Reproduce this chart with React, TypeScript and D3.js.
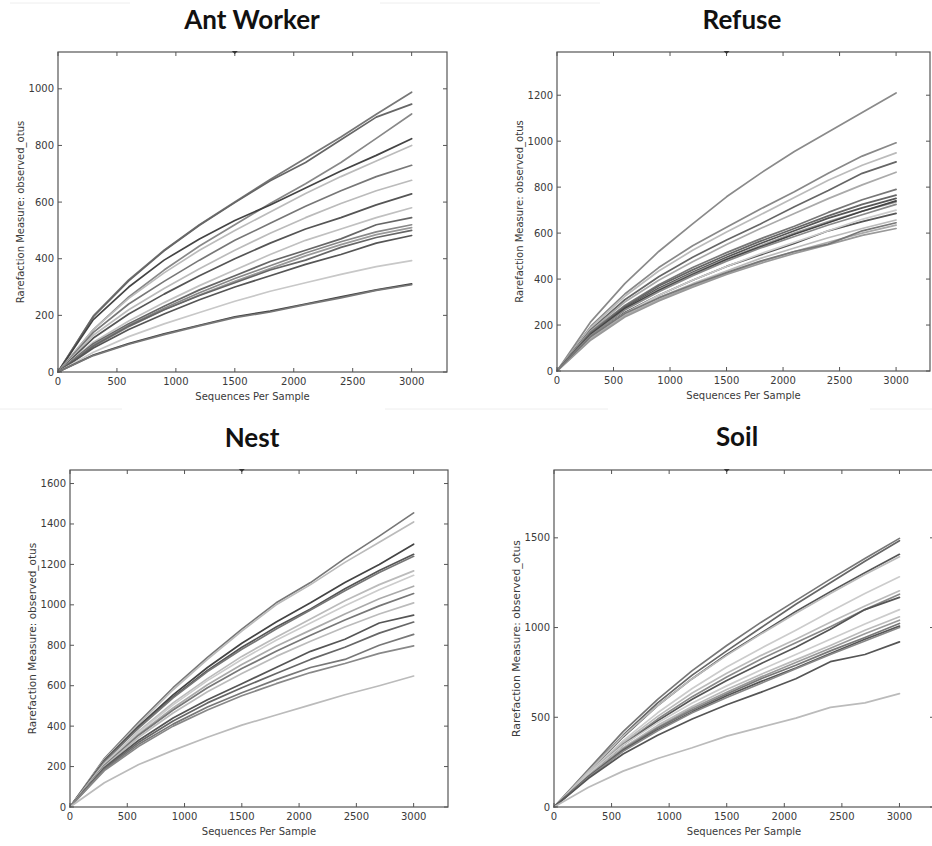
import React from "react";
import * as d3 from "d3";

// Rarefaction depths (sequences per sample)
const DEPTHS = [0, 300, 600, 900, 1200, 1500, 1800, 2100, 2400, 2700, 3000];

const PANEL_TITLES = ["Ant Worker", "Refuse", "Nest", "Soil"];
const X_TICKS = [0, 500, 1000, 1500, 2000, 2500, 3000];
const Y_TICKS_ANT = [0, 200, 400, 600, 800, 1000];
const Y_TICKS_REFUSE = [0, 200, 400, 600, 800, 1000, 1200];
const Y_TICKS_NEST = [0, 200, 400, 600, 800, 1000, 1200, 1400, 1600];
const Y_TICKS_SOIL = [0, 500, 1000, 1500];

// observed_otus per sample, one row per sample
const ANT_WORKER = [
  [0, 198, 325, 430, 520, 600, 680, 755, 830, 910, 988],
  [0, 195, 322, 428, 518, 598, 675, 740, 820, 900, 946],
  [0, 150, 265, 360, 445, 520, 595, 665, 740, 825, 911],
  [0, 185, 300, 395, 470, 535, 590, 650, 710, 765, 824],
  [0, 150, 260, 350, 430, 500, 565, 630, 690, 745, 800],
  [0, 140, 240, 320, 395, 465, 525, 585, 640, 690, 730],
  [0, 130, 220, 295, 365, 430, 490, 545, 595, 640, 677],
  [0, 120, 205, 275, 340, 400, 455, 505, 545, 590, 629],
  [0, 105, 180, 245, 305, 360, 415, 465, 505, 545, 580],
  [0, 100, 170, 232, 290, 340, 390, 430, 470, 520, 545],
  [0, 95, 165, 225, 280, 330, 375, 420, 460, 495, 520],
  [0, 90, 160, 220, 272, 320, 365, 410, 450, 485, 510],
  [0, 92, 162, 220, 270, 315, 360, 395, 440, 475, 500],
  [0, 85, 150, 205, 255, 300, 340, 380, 415, 455, 482],
  [0, 70, 125, 170, 210, 250, 285, 315, 345, 372, 393],
  [0, 60, 100, 135, 165, 195, 215, 240, 265, 290, 311],
  [0, 58, 98, 132, 163, 192, 212, 238, 262, 288, 308],
];
const ANT_WORKER_SHADES = ["#777", "#666", "#888", "#444", "#bbb", "#777", "#bbb", "#555", "#c0c0c0", "#666", "#888", "#999", "#666", "#555", "#c8c8c8", "#444", "#777"];

const REFUSE = [
  [0, 215, 380, 520, 640, 758, 860, 955, 1040, 1125, 1210],
  [0, 195, 335, 450, 545, 625, 705, 780, 860, 935, 993],
  [0, 190, 325, 435, 525, 605, 680, 755, 830, 895, 949],
  [0, 180, 310, 410, 495, 570, 640, 715, 785, 860, 910],
  [0, 175, 300, 395, 475, 550, 620, 685, 750, 810, 865],
  [0, 170, 285, 375, 450, 515, 575, 630, 690, 745, 790],
  [0, 165, 280, 370, 440, 505, 565, 620, 675, 725, 765],
  [0, 160, 275, 360, 430, 495, 555, 610, 665, 710, 751],
  [0, 158, 270, 355, 425, 488, 545, 600, 650, 695, 736],
  [0, 160, 272, 350, 420, 485, 540, 595, 645, 695, 740],
  [0, 150, 255, 330, 395, 455, 505, 555, 610, 650, 686],
  [0, 145, 245, 320, 380, 435, 490, 535, 580, 620, 657],
  [0, 140, 240, 310, 370, 425, 475, 520, 560, 600, 635],
  [0, 135, 235, 305, 365, 420, 468, 512, 550, 590, 620],
  [0, 150, 250, 330, 395, 455, 510, 560, 610, 660, 700],
  [0, 155, 265, 345, 415, 478, 535, 585, 635, 680, 725],
  [0, 150, 250, 318, 375, 428, 478, 520, 552, 610, 645],
];
const REFUSE_SHADES = ["#8a8a8a", "#888", "#bbb", "#666", "#aaa", "#777", "#666", "#555", "#999", "#444", "#555", "#bbb", "#aaa", "#999", "#ccc", "#888", "#777"];

const NEST = [
  [0, 240, 420, 590, 740, 880, 1010, 1110, 1230, 1340, 1455],
  [0, 235, 410, 580, 730, 870, 1000, 1100, 1210, 1310, 1410],
  [0, 230, 400, 555, 690, 810, 915, 1010, 1110, 1200, 1300],
  [0, 225, 395, 545, 675, 790, 890, 980, 1080, 1170, 1250],
  [0, 225, 390, 540, 670, 780, 880, 975, 1070, 1160, 1240],
  [0, 215, 375, 515, 635, 745, 840, 930, 1020, 1100, 1168],
  [0, 210, 370, 505, 625, 730, 825, 910, 995, 1075, 1146],
  [0, 205, 360, 490, 605, 705, 795, 875, 955, 1030, 1092],
  [0, 205, 355, 480, 590, 685, 770, 850, 925, 995, 1056],
  [0, 200, 345, 465, 570, 660, 745, 820, 890, 955, 1010],
  [0, 195, 330, 440, 530, 610, 690, 770, 830, 910, 949],
  [0, 190, 320, 425, 515, 590, 660, 730, 790, 860, 915],
  [0, 185, 310, 410, 495, 565, 630, 690, 730, 800, 854],
  [0, 180, 300, 400, 480, 550, 610, 665, 710, 760, 797],
  [0, 120, 210, 280, 345, 405, 455, 505, 555, 600, 648],
];
const NEST_SHADES = ["#777", "#bbb", "#444", "#555", "#777", "#bbb", "#ccc", "#aaa", "#777", "#bbb", "#555", "#666", "#777", "#888", "#bbb"];

const SOIL = [
  [0, 210, 420, 600, 760, 900, 1030, 1150, 1270, 1385, 1497],
  [0, 200, 400, 580, 735, 870, 1000, 1130, 1250, 1370, 1484],
  [0, 195, 390, 565, 715, 850, 970, 1090, 1200, 1305, 1408],
  [0, 200, 395, 565, 715, 845, 965, 1080, 1190, 1295, 1394],
  [0, 190, 370, 525, 660, 780, 885, 985, 1090, 1190, 1283],
  [0, 185, 360, 505, 635, 745, 845, 935, 1030, 1120, 1205],
  [0, 180, 350, 490, 615, 725, 825, 915, 1005, 1100, 1186],
  [0, 180, 345, 480, 600, 705, 800, 890, 990, 1100, 1168],
  [0, 185, 345, 470, 580, 675, 765, 850, 935, 1020, 1100],
  [0, 175, 330, 455, 560, 655, 740, 820, 900, 985, 1060],
  [0, 172, 325, 445, 550, 640, 725, 805, 885, 965, 1041],
  [0, 170, 320, 440, 540, 630, 715, 790, 870, 945, 1023],
  [0, 168, 315, 430, 530, 620, 700, 775, 855, 935, 1008],
  [0, 165, 310, 425, 525, 610, 690, 770, 850, 925, 1000],
  [0, 160, 295, 400, 490, 570, 640, 715, 810, 850, 920],
  [0, 110, 200, 270, 330, 395, 445, 495, 555, 580, 632],
];
const SOIL_SHADES = ["#777", "#666", "#555", "#bbb", "#ccc", "#bbb", "#888", "#555", "#ccc", "#bbb", "#999", "#777", "#555", "#888", "#555", "#bbb"];

const X_LABEL = "Sequences Per Sample";
const Y_LABEL = "Rarefaction Measure: observed_otus";

type PanelSpec = {
  title: string;
  series: number[][];
  shades: string[];
  yTicks: number[];
  yMax: number;
  left: number;
  right: number;
  top: number;
  bottom: number;
  titleX: number;
  titleY: number;
  yLabelSize: number;
};

const PANELS: PanelSpec[] = [
  { title: PANEL_TITLES[0], series: ANT_WORKER, shades: ANT_WORKER_SHADES, yTicks: Y_TICKS_ANT, yMax: 1130, left: 58, right: 447, top: 52, bottom: 372, titleX: 252, titleY: 29, yLabelSize: 10 },
  { title: PANEL_TITLES[1], series: REFUSE, shades: REFUSE_SHADES, yTicks: Y_TICKS_REFUSE, yMax: 1388, left: 557, right: 930, top: 52, bottom: 371, titleX: 742, titleY: 29, yLabelSize: 10 },
  { title: PANEL_TITLES[2], series: NEST, shades: NEST_SHADES, yTicks: Y_TICKS_NEST, yMax: 1667, left: 70, right: 448, top: 470, bottom: 807, titleX: 252, titleY: 447, yLabelSize: 10.5 },
  { title: PANEL_TITLES[3], series: SOIL, shades: SOIL_SHADES, yTicks: Y_TICKS_SOIL, yMax: 1878, left: 554, right: 934, top: 470, bottom: 807, titleX: 737, titleY: 446, yLabelSize: 10.8 },
];

const FRAME = "#555";
const TEXT = "#3a3a3a";
const FONT = "'DejaVu Sans', sans-serif";

function Panel({ p }: { p: PanelSpec }) {
  const x = d3.scaleLinear().domain([0, 3300]).range([p.left, p.right]);
  const y = d3.scaleLinear().domain([0, p.yMax]).range([p.bottom, p.top]);
  const line = d3
    .line<number>()
    .x((_, i) => x(DEPTHS[i]))
    .y((v) => y(v));
  const tickLen = 4;
  const mid = x(1500);
  return (
    <g>
      <text x={p.titleX} y={p.titleY} textAnchor="middle" fontFamily="Lato, 'Open Sans', sans-serif" fontWeight={700} fontSize={26} fill="#111">
        {p.title}
      </text>
      <rect x={p.left} y={p.top} width={p.right - p.left} height={p.bottom - p.top} fill="#fff" />
      {p.series.map((s, i) => (
        <path key={i} d={line(s) || ""} fill="none" stroke={p.shades[i]} strokeWidth={1.7} strokeLinejoin="round" strokeLinecap="round" />
      ))}
      {/* inward ticks on all four sides */}
      {X_TICKS.map((t) => (
        <g key={"x" + t}>
          <line x1={x(t)} x2={x(t)} y1={p.bottom} y2={p.bottom - tickLen} stroke={FRAME} strokeWidth={1} />
          <line x1={x(t)} x2={x(t)} y1={p.top} y2={p.top + tickLen} stroke={FRAME} strokeWidth={1} />
          <text x={x(t)} y={p.bottom + 12.5} textAnchor="middle" fontFamily={FONT} fontSize={10} fill={TEXT}>
            {t}
          </text>
        </g>
      ))}
      {p.yTicks.map((t) => (
        <g key={"y" + t}>
          <line x1={p.left} x2={p.left + tickLen} y1={y(t)} y2={y(t)} stroke={FRAME} strokeWidth={1} />
          <line x1={p.right} x2={p.right - tickLen} y1={y(t)} y2={y(t)} stroke={FRAME} strokeWidth={1} />
          <text x={p.left - 4} y={y(t)} dy="0.35em" textAnchor="end" fontFamily={FONT} fontSize={10} fill={TEXT}>
            {t}
          </text>
        </g>
      ))}
      <rect x={p.left} y={p.top} width={p.right - p.left} height={p.bottom - p.top} fill="none" stroke={FRAME} strokeWidth={1.2} />
      {/* small marker on the top spine */}
      <path d={`M${mid - 3},${p.top - 1} L${mid + 3},${p.top - 1} L${mid},${p.top + 2} Z`} fill="#333" />
      <text x={(p.left + p.right) / 2} y={p.bottom + 28} textAnchor="middle" fontFamily={FONT} fontSize={10} fill={TEXT}>
        {X_LABEL}
      </text>
      <text
        transform={`translate(${p.left - 38},${(p.top + p.bottom) / 2}) rotate(-90)`}
        textAnchor="middle"
        dominantBaseline="central"
        fontFamily={FONT}
        fontSize={p.yLabelSize}
        fill={TEXT}
      >
        {Y_LABEL}
      </text>
    </g>
  );
}

export default function App() {
  return (
    <svg width={932} height={846} viewBox="0 0 932 846" style={{ position: "absolute", left: 0, top: 0, background: "#fff" }}>
      <rect x={0} y={0} width={932} height={846} fill="#fff" />
      {/* faint panel separators */}
      <g stroke="#eee" strokeWidth={1}>
        <line x1={10} x2={130} y1={3} y2={3} />
        <line x1={380} x2={600} y1={3} y2={3} />
        <line x1={0} x2={122} y1={409} y2={409} />
        <line x1={385} x2={608} y1={409} y2={409} />
        <line x1={870} x2={932} y1={409} y2={409} />
      </g>
      {PANELS.map((p) => (
        <Panel key={p.title} p={p} />
      ))}
    </svg>
  );
}
